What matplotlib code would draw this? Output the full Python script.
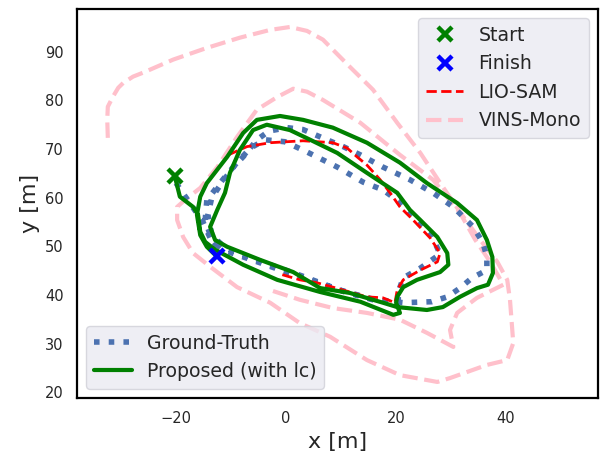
import matplotlib
matplotlib.use('Agg')
import matplotlib.pyplot as plt
import seaborn as sns

# trajectories, metres
gt_x = [-20.0, -17.5, -15.1, -13.8, -11.6, -4.7, 2.5, 9.8, 16.2, 20.4, 20.4, 21.3, 24.4, 28.0,
        26.5, 23.5, 20.7, 17.6, 14.0, 9.3, 3.8, -0.2, -3.8, -6.5, -9.3, -11.6, -13.5, -14.2,
        -13.5, -11.1, -4.4, 2.9, 10.7, 15.8, 21.3, 26.5, 29.3, 31.6, 33.8, 36.5, 36.5, 35.8,
        34.0, 30.4, 26.7, 22.5, 17.6, 13.5, 10.4, 6.2, 3.1, 0.2, -3.1, -5.3, -7.8, -9.6,
        -11.5, -14.4, -14.7, -13.5, -12.0]
gt_y = [63.0, 58.9, 55.0, 51.7, 49.3, 46.6, 43.7, 41.0, 39.0, 38.6, 40.6, 43.5, 45.5, 48.4,
        52.1, 55.4, 59.1, 61.6, 63.2, 66.3, 69.4, 71.5, 71.9, 70.2, 66.7, 63.2, 60.0, 56.5,
        52.3, 49.7, 46.8, 43.9, 40.6, 39.0, 38.4, 38.6, 39.6, 41.4, 43.5, 45.1, 47.8, 50.7,
        54.0, 58.1, 61.0, 63.7, 66.3, 68.8, 70.5, 72.5, 74.0, 74.4, 73.7, 71.9, 68.4, 66.3,
        63.7, 59.5, 55.4, 51.3, 49.3]

prop_x = [-20.2, -19.3, -16.9, -16.0, -15.6, -14.7, -12.9, -7.8, -1.6, 6.2, 13.5, 19.5, 20.7,
          20.0, 20.2, 21.3, 23.8, 28.0, 29.5, 29.3, 27.5, 24.4, 22.5, 20.2, 14.7, 9.3, 4.4,
          0.7, -3.5, -6.0, -8.4, -10.2, -11.1, -12.5, -13.8, -12.9, -10.7, -4.7, 1.3, 6.2,
          11.6, 17.6, 20.2, 25.6, 28.5, 31.6, 34.7, 36.7, 37.6, 37.5, 36.5, 34.7, 31.1, 25.6,
          20.7, 14.7, 8.5, 3.1, -1.1, -5.3, -7.8, -10.7, -14.4, -15.6, -16.2, -15.6, -14.4,
          -12.5]
prop_y = [64.3, 60.2, 58.1, 56.5, 53.0, 50.9, 49.3, 46.2, 43.1, 40.6, 38.6, 35.9, 36.3, 38.4,
          39.6, 41.6, 43.1, 44.7, 46.2, 48.6, 51.9, 55.4, 57.5, 61.0, 65.1, 69.2, 71.9, 73.9,
          75.0, 73.9, 69.8, 65.1, 61.0, 57.5, 54.0, 51.3, 49.9, 47.2, 44.7, 41.4, 40.4, 38.4,
          37.5, 36.9, 37.5, 39.6, 41.4, 42.1, 44.5, 47.8, 51.3, 55.4, 58.9, 63.0, 67.2, 71.3,
          74.4, 76.0, 76.8, 76.0, 73.3, 68.4, 63.0, 60.2, 56.5, 52.3, 49.9, 47.8]

lio_x = [-10.5, -7.1, -2.9, 3.1, 8.5, 11.1, 12.9, 14.7, 17.1, 18.9, 20.7, 23.1, 26.2, 28.0,
         27.5, 24.4, 21.3, 20.2, 19.8, 17.6, 14.7, 11.6, 8.5, 5.6, 2.5, -1.1]
lio_y = [68.8, 70.5, 71.3, 71.7, 71.3, 70.2, 68.4, 66.7, 63.7, 61.0, 58.1, 55.4, 51.7, 48.6,
         46.8, 45.1, 43.1, 41.0, 38.4, 39.4, 39.6, 40.6, 41.6, 42.5, 43.1, 44.3]

vins_x = [-32.4, -32.5, -32.4, -31.5, -30.5, -29.6, -27.8, -26.0, -20.5, -14.4, -8.4, -2.9,
          0.7, 3.8, 6.7, 11.6, 15.8, 20.2, 24.4, 28.5, 32.2, 35.3, 38.4, 40.2, 40.7, 41.3,
          40.2, 36.5, 29.8, 27.5, 20.7, 14.7, 8.0, 2.5, -2.9, -8.9, -13.8, -16.9, -18.7,
          -19.8, -19.8, -18.4, -15.6, -12.5, -8.9, -5.3, -1.6, 1.3, 3.8, 6.7, 13.5, 20.7,
          26.7, 31.6, 34.4, 37.1, 39.5, 34.7, 31.1, 29.8, 30.4, 25.6, 20.7, 14.7, 8.5, 2.5,
          -2.9]
vins_y = [72.3, 76.0, 78.7, 80.7, 82.6, 83.6, 84.9, 85.7, 88.4, 90.8, 92.9, 94.5, 95.1, 94.3,
          92.5, 86.9, 82.2, 75.4, 69.2, 62.2, 56.1, 51.3, 46.8, 43.1, 39.0, 30.1, 26.6, 25.6,
          22.9, 22.1, 23.5, 26.6, 31.4, 34.2, 38.4, 41.6, 45.8, 48.6, 51.9, 55.4, 58.1, 59.5,
          62.0, 66.3, 72.5, 78.1, 80.7, 82.4, 81.8, 80.1, 75.4, 68.8, 63.7, 56.9, 51.3, 46.8,
          42.1, 39.4, 36.3, 32.8, 29.3, 32.2, 34.9, 36.3, 37.3, 39.0, 41.0]

start_xy = (-20.2, 64.5)
finish_xy = (-12.5, 48.0)

sns.set_theme(style='white')
plt.rcParams['font.family'] = ['DejaVu Sans']

fig = plt.figure(figsize=(6.02, 4.53), dpi=100)
ax = fig.add_axes([77 / 602, 1 - 398 / 453, 521 / 602, 389 / 453])

line_kw = dict(solid_joinstyle='round', dash_joinstyle='round')
ax.plot(vins_x, vins_y, color='pink', linestyle='--', linewidth=3, label='VINS-Mono', **line_kw)
ax.plot(gt_x, gt_y, color='#4C72B0', linestyle=':', linewidth=4, label='Ground-Truth', **line_kw)
ax.plot(lio_x, lio_y, color='red', linestyle='--', linewidth=2, label='LIO-SAM', **line_kw)
ax.plot(prop_x, prop_y, color='green', linewidth=3, label='Proposed (with lc)', **line_kw)
ax.plot(*start_xy, 'x', color='green', markersize=10, mew=3.2, label='Start')
ax.plot(*finish_xy, 'x', color='blue', markersize=10, mew=3.2, label='Finish')

ax.set_xlim(-38, 56.7)
ax.set_ylim(18.8, 98.8)
ax.set_xticks([-20, 0, 20, 40])
ax.set_yticks([20, 30, 40, 50, 60, 70, 80, 90])
ax.tick_params(labelsize=10.5, colors='#262626')
for s in ax.spines.values():
    s.set_color('black')
    s.set_linewidth(1.6)
ax.set_xlabel('x [m]', fontsize=16, color='#262626')
ax.set_ylabel('y [m]', fontsize=16, color='#262626')

handles, labels = ax.get_legend_handles_labels()
hmap = dict(zip(labels, handles))
top_names = ['Start', 'Finish', 'LIO-SAM', 'VINS-Mono']
bottom_names = ['Ground-Truth', 'Proposed (with lc)']
leg1 = ax.legend([hmap[k] for k in top_names], top_names,
                 loc='upper right', fontsize=13.6, facecolor='#EAEAF2', framealpha=0.8,
                 edgecolor='#D0D0D8')
ax.add_artist(leg1)
ax.legend([hmap[k] for k in bottom_names], bottom_names,
          loc='lower left', fontsize=13.6, facecolor='#EAEAF2', framealpha=0.8,
          edgecolor='#D0D0D8')

fig.savefig('out.png', dpi=100)
